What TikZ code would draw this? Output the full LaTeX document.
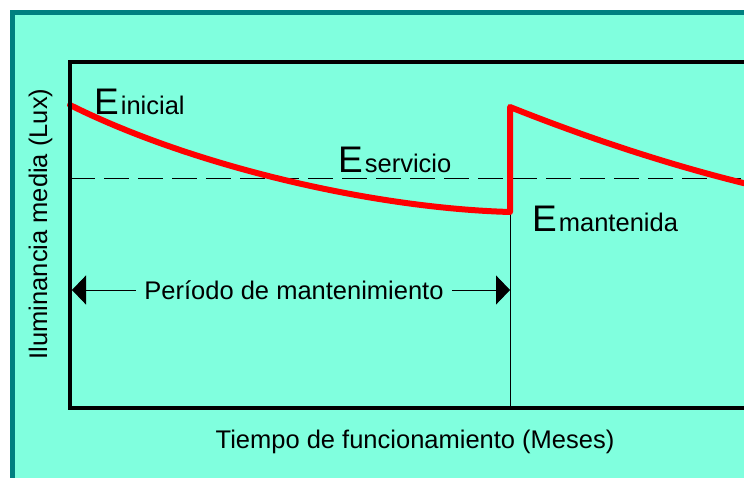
\documentclass[tikz,border=0pt]{standalone}
\usepackage{fontspec}
\setmainfont{Liberation Sans}
\usetikzlibrary{arrows.meta}
\definecolor{fondo}{RGB}{128,255,222}
\definecolor{borde}{RGB}{0,128,128}
\newcommand{\nivelE}[1]{{\fontsize{37}{37}\selectfont E}\kern2pt{\fontsize{25.5}{25.5}\selectfont #1}}

\begin{document}
\begin{tikzpicture}[x=1pt,y=-1pt,
    txt/.style={font=\fontsize{25.5}{30}\selectfont, inner sep=0pt},
    curva/.style={red, line width=6pt, line cap=round, line join=round},
    marco/.style={line width=4.5pt},
    flecha/.style={arrows={Triangle[length=14pt,width=29pt]-Triangle[length=14pt,width=29pt]}, line width=0.8pt}]
    \path[use as bounding box] (0,0) rectangle (744,478);
    \clip (0,0) rectangle (744,478);
    \fill[borde] (10,10) rectangle (760,490);
    \fill[fondo] (15,15) rectangle (760,490);
    \begin{scope}
      \draw[dash pattern=on 25pt off 9pt, line width=0.8pt] (70,178) -- (750,178);
      \draw[line width=0.8pt] (510,212) -- (510,408);
      \draw[curva] (70,105) .. controls (190,165) and (370,208) .. (510,212)
        -- (510,107) .. controls (580,135) and (670,166) .. (760,187);
      \draw[marco] (70,62) rectangle (747,408);
      \node[txt, anchor=base west] (einicial) at (94,115) {\nivelE{inicial}};
      \node[txt, anchor=base west] (eservicio) at (338,173) {\nivelE{servicio}};
      \node[txt, anchor=base west] (emantenida) at (532,232) {\nivelE{mantenida}};
      \coordinate (pL) at (72,290);
      \coordinate (pR) at (510,290);
      \draw[flecha] (pL) -- (pR);
      \node[txt, anchor=base, fill=fondo, inner xsep=8pt] (periodo) at (294,300) {Período de mantenimiento};
      \node[txt, rotate=90, anchor=base] (ylabel) at (47,224) {Iluminancia media (Lux)};
      \node[txt, anchor=base] (xlabel) at (415,448) {Tiempo de funcionamiento (Meses)};
    \end{scope}
\end{tikzpicture}
\end{document}
